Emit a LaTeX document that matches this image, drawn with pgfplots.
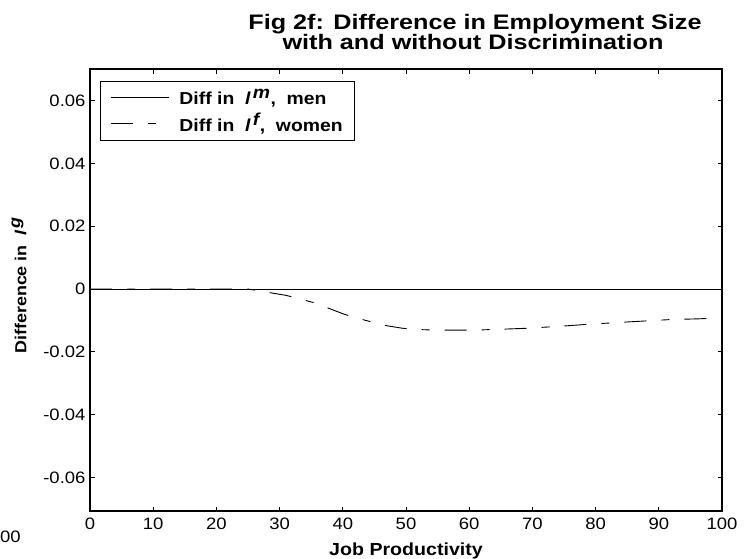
\documentclass[border=0pt]{standalone}
\usepackage{fontspec}
\setmainfont[FakeStretch=1.12]{Liberation Sans}
\newfontfamily\titlefont[FakeStretch=1.2]{Liberation Sans}
\usepackage{pgfplots}
\pgfplotsset{compat=1.18}
\begin{document}
\begin{tikzpicture}[x=1pt,y=1pt]
\path[use as bounding box] (0,0) rectangle (744,558);
\begin{axis}[
  at={(90pt,47pt)}, anchor=south west,
  scale only axis, width=632pt, height=442pt,
  xmin=0, xmax=100, ymin=-0.0707, ymax=0.0701,
  xtick={0,10,...,100},
  ytick={-0.06,-0.04,-0.02,0,0.02,0.04,0.06},
  yticklabels={-0.06,-0.04,-0.02,0,0.02,0.04,0.06},
  scaled y ticks=false,
  tick align=inside, major tick length=4.5pt,
  tick style={black, line width=0.7pt},
  axis line style={black, line width=1.1pt},
  every tick label/.append style={font=\fontsize{16.5}{18}\selectfont},
  /pgf/number format/assume math mode=true,
  xticklabel style={yshift=-3pt},
  yticklabel style={xshift=-1pt},
  xlabel={\bfseries Job Productivity},
  xlabel style={font=\fontsize{17.5}{19}\selectfont, at={(axis description cs:0.5,0)}, anchor=base, yshift=-44pt},
  ylabel={\bfseries Difference in \ \textit{l}$^{\,\textit{g}}$},
  ylabel style={font=\fontsize{16}{17}\selectfont, at={(axis description cs:-0.1123,0.511)}, anchor=center},
  legend style={at={(axis description cs:0.0159,0.972)}, anchor=north west, font=\fontsize{17.3}{19}\selectfont,
    draw=black, line width=1.1pt, inner xsep=10pt, inner ysep=5pt, row sep=3pt, column sep=8pt, nodes={inner sep=2pt}},
  legend cell align=left,
  legend image code/.code={\draw[#1] (0pt,0pt) -- (58pt,0pt);},
]
\addplot[black, line width=0.8pt] coordinates {(0,0) (100,0)};
\addlegendentry{\bfseries Diff in \ \textit{l}$^{\,\textit{m}}$, \ men}
\addplot[black, line width=0.9pt, dash pattern=on 22pt off 15pt on 8pt off 15pt] coordinates {
(0,0) (10,0) (20,0) (25,0) (26,-0.0003) (28,-0.001) (31,-0.002) (33,-0.003) (35.7,-0.0045)
(38,-0.0063) (40.2,-0.0080) (42.5,-0.0094) (44.8,-0.0106) (47,-0.0117) (49.5,-0.0125)
(52,-0.0129) (55,-0.0131) (59,-0.0131) (62,-0.0130) (65,-0.0128) (69,-0.0125)
(74,-0.0119) (79,-0.0112) (84,-0.0106) (88.4,-0.0101) (92,-0.0097) (96,-0.0095) (100,-0.0092)};
\addlegendentry{\bfseries Diff in \ \textit{l}$^{\,\textit{f}}$, \ women}
\end{axis}
\node[anchor=base, font=\titlefont\bfseries\fontsize{21}{21}\selectfont, inner sep=0pt] at (475,528) {Fig 2f: Difference in Employment Size};
\node[anchor=base, font=\titlefont\bfseries\fontsize{21}{21}\selectfont, inner sep=0pt] at (473,508) {with and without Discrimination};
\node[anchor=base west, font=\fontsize{16.5}{18}\selectfont, inner sep=0pt] at (0,16) {00};
\end{tikzpicture}
\end{document}
